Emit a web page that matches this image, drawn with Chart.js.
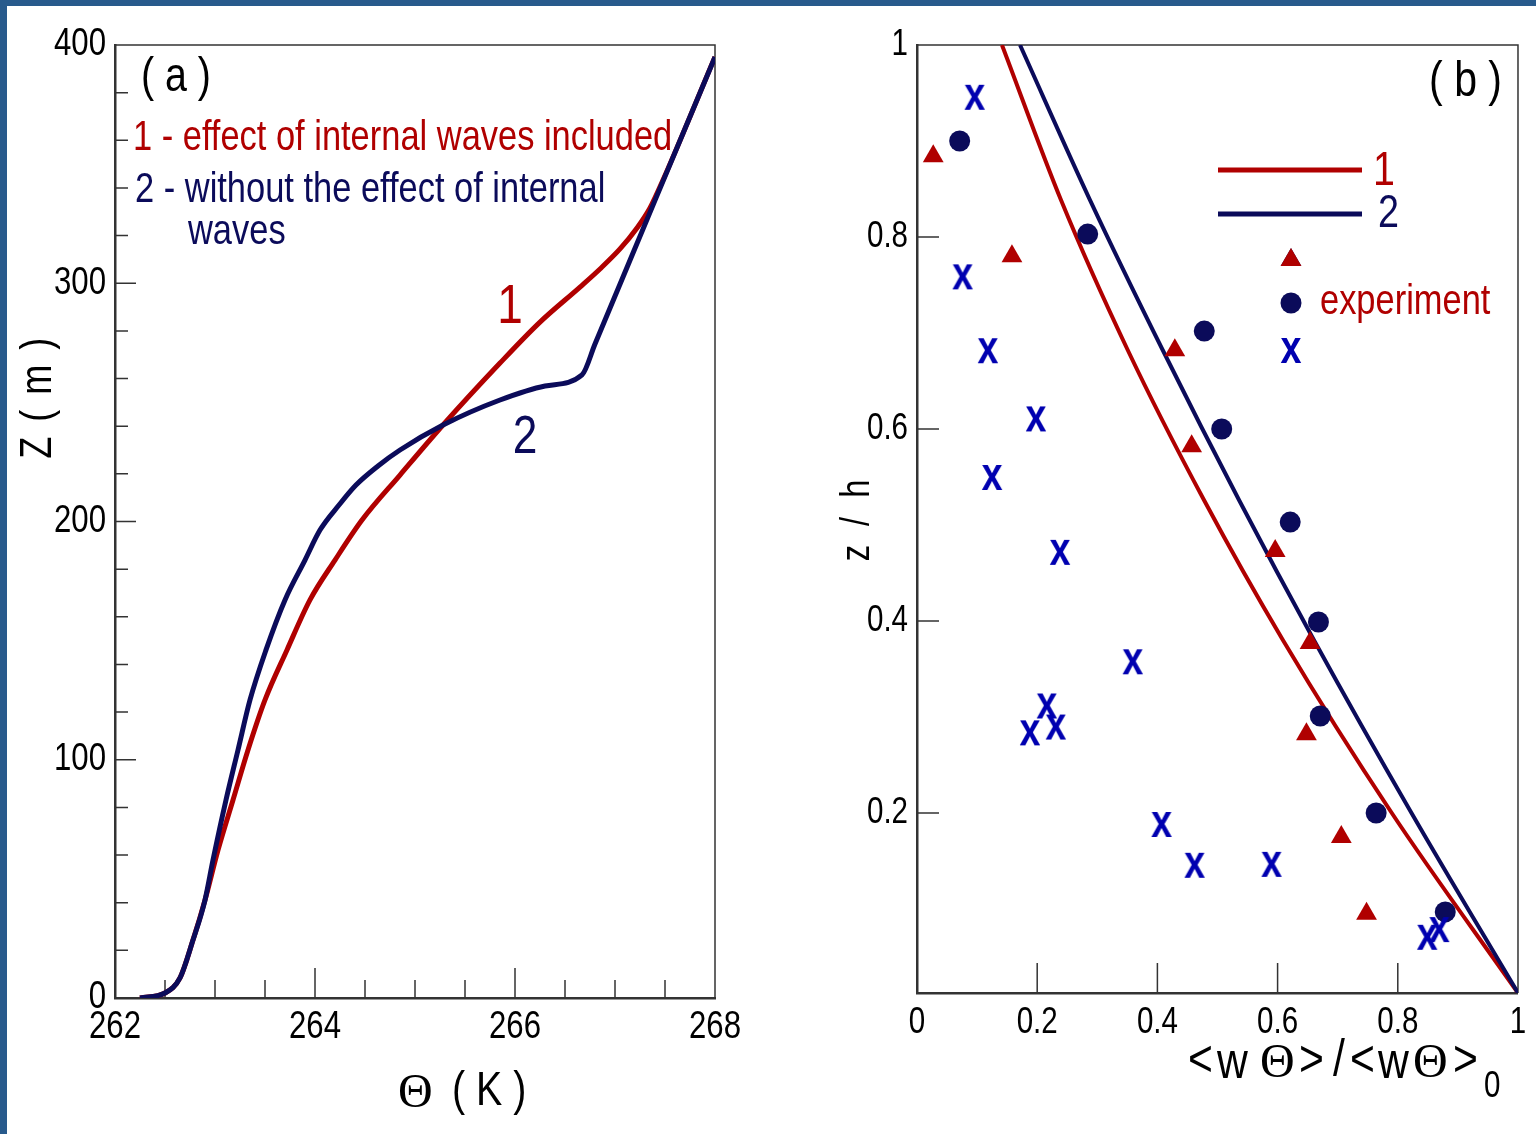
<!DOCTYPE html>
<html>
<head>
<meta charset="utf-8">
<script src="https://cdn.jsdelivr.net/npm/chart.js@4.4.1/dist/chart.umd.min.js"></script>
<style>
  html, body { margin: 0; padding: 0; background: #fff; }
  body { width: 1536px; height: 1134px; position: relative; overflow: hidden; }
  canvas { position: absolute; left: 0; top: 0; }
  .frame { position: absolute; background: #285a8c; }
</style>
</head>
<body>
<div class="frame" style="left:0;top:0;width:1536px;height:6px"></div>
<div class="frame" style="left:0;top:0;width:7px;height:1134px"></div>
<canvas id="chartA" width="1536" height="1134"></canvas>
<canvas id="chartB" width="1536" height="1134"></canvas>
<script>
// ---- panel (a): potential temperature profiles ----
var thetaCurve1 = [262.25, 262.5, 262.65, 262.78, 262.9, 263.03, 263.18, 263.33, 263.5, 263.72, 263.95, 264.2, 264.47, 264.85, 265.28, 265.85, 266.25, 266.65, 266.85, 267.05, 267.22, 267.35, 267.48, 268];
var zCurve1     = [0, 2.1, 8.4, 24.3, 41.1, 62.1, 83.1, 104.1, 125.1, 146.1, 167.1, 183.8, 200.6, 219.5, 240.5, 266.5, 283.7, 298.4, 306, 314.4, 323.2, 331.6, 343.3, 395];
var thetaCurve2 = [262.25, 262.5, 262.65, 262.78, 262.9, 262.98, 263.11, 263.23, 263.35, 263.51, 263.7, 263.9, 264.05, 264.24, 264.41, 264.63, 264.85, 265.28, 265.85, 266.3, 266.67, 266.8, 267.4, 268];
var zCurve2     = [0, 2.1, 8.4, 24.3, 41.1, 57.9, 83.1, 104.1, 125.1, 146.1, 167.1, 183.8, 196.4, 206.9, 215.3, 223.3, 230, 240.5, 251, 256.9, 261.5, 274.5, 334.8, 395];

var thetaTicks  = [262, 262.5, 263, 263.5, 264, 264.5, 265, 265.5, 266, 266.5, 267, 267.5, 268];
var thetaLabels = [262, 264, 266, 268];
var zTicks      = [0, 20, 40, 60, 80, 100, 120, 140, 160, 180, 200, 220, 240, 260, 280, 300, 320, 340, 360, 380, 400];
var zLabels     = [0, 100, 200, 300, 400];

// ---- panel (b): normalised heat flux ----
var fluxCurve1   = [0.1414, 0.2396, 0.3506, 0.4775, 0.609, 0.790, 1.0];
var heightCurve1 = [1.0, 0.8385, 0.6823, 0.526, 0.38, 0.2, 0.0125];
var fluxCurve2   = [0.1714, 0.2879, 0.4088, 0.5358, 0.6606, 0.8228, 1.0];
var heightCurve2 = [1.0, 0.8385, 0.6823, 0.526, 0.38, 0.2, 0.0125];

var triFlux     = [0.027, 0.158, 0.429, 0.457, 0.596, 0.654, 0.648, 0.706, 0.748];
var triHeight   = [0.884, 0.780, 0.682, 0.582, 0.473, 0.377, 0.282, 0.175, 0.095];
var dotFlux     = [0.071, 0.284, 0.478, 0.507, 0.621, 0.668, 0.671, 0.764, 0.879];
var dotHeight   = [0.9, 0.803, 0.702, 0.6, 0.503, 0.399, 0.301, 0.2, 0.097];
var crossFlux   = [0.096, 0.076, 0.118, 0.198, 0.125, 0.238, 0.359, 0.216, 0.188, 0.231, 0.407, 0.462, 0.590, 0.849, 0.869];
var crossHeight = [0.945, 0.758, 0.681, 0.610, 0.549, 0.471, 0.357, 0.311, 0.283, 0.289, 0.1875, 0.145, 0.146, 0.070, 0.078];

var fluxTicks   = [0, 0.2, 0.4, 0.6, 0.8, 1];
var heightTicks = [0.2, 0.4, 0.6, 0.8, 1];

var RED = '#b00000';
var NAVY = '#0b0b5a';
var BLUE = '#0000b0';
var SANS = '"Liberation Sans", Arial, sans-serif';
var SERIF = '"Liberation Serif", "DejaVu Serif", serif';

function pairs(xs, ys) {
  return xs.map(function (x, i) { return {x: x, y: ys[i]}; });
}

// no Arial Narrow here: squeeze Liberation Sans text to the same 82% width
function narrowText(canvas) {
  var ctx = canvas.getContext('2d');
  var fill = ctx.fillText;
  ctx.fillText = function (s, x, y, w) {
    if (this.font.indexOf('Liberation Sans') < 0) return fill.apply(this, arguments);
    this.save();
    this.translate(x, y);
    this.scale(0.82, 1);
    if (w === undefined) fill.call(this, s, 0, 0);
    else fill.call(this, s, 0, 0, w / 0.82);
    this.restore();
  };
}

function label(ctx, s, x, y, size, color, align, font) {
  ctx.font = size + 'px ' + (font || SANS);
  ctx.fillStyle = color;
  ctx.textAlign = align || 'left';
  ctx.textBaseline = 'middle';
  ctx.fillText(s, x, y);
}

// bold "x" glyph used as the point style of the third experiment
function crossGlyph() {
  var c = document.createElement('canvas');
  c.width = 30; c.height = 32;
  var g = c.getContext('2d');
  g.fillStyle = BLUE;
  g.font = 'bold 46px ' + SANS;
  g.textAlign = 'center';
  g.textBaseline = 'alphabetic';
  g.translate(15, 28);
  g.scale(0.82, 1);
  g.fillText('x', 0, 0);
  return c;
}

// inward tick marks plus the top / right frame
function tickMarks(xLen, yLen) {
  return {
    id: 'tickMarks',
    beforeDatasetsDraw: function (chart) {
      var ctx = chart.ctx, a = chart.chartArea, sx = chart.scales.x, sy = chart.scales.y;
      ctx.save();
      ctx.strokeStyle = '#333';
      ctx.lineWidth = 1.5;
      ctx.beginPath();
      ctx.moveTo(a.left, a.top);
      ctx.lineTo(a.right, a.top);
      ctx.lineTo(a.right, a.bottom);
      sx.ticks.forEach(function (t) {
        var p = sx.getPixelForValue(t.value);
        ctx.moveTo(p, a.bottom);
        ctx.lineTo(p, a.bottom - (t.major ? xLen[0] : xLen[1]));
      });
      sy.ticks.forEach(function (t) {
        var p = sy.getPixelForValue(t.value);
        ctx.moveTo(a.left, p);
        ctx.lineTo(a.left + (t.major ? yLen[0] : yLen[1]), p);
      });
      ctx.stroke();
      ctx.restore();
    }
  };
}

function axis(min, max, size, ticks, labels, padding, fit) {
  return {
    type: 'linear', min: min, max: max,
    afterFit: fit,
    afterBuildTicks: function (s) {
      s.ticks = ticks.map(function (v) { return {value: v, major: labels.indexOf(v) >= 0}; });
    },
    grid: {display: false, drawTicks: false},
    border: {display: true, color: '#333', width: 2.5},
    ticks: {
      autoSkip: false, maxRotation: 0, padding: padding, color: '#000',
      font: {family: SANS, size: size},
      callback: function (v) { return labels.indexOf(v) >= 0 ? String(v) : ''; }
    }
  };
}

var notesA = {
  id: 'notesA',
  afterDraw: function (chart) {
    var ctx = chart.ctx, sx = chart.scales.x, sy = chart.scales.y;
    ctx.save();
    label(ctx, '( a )', 141, 78, 48, '#000');
    label(ctx, '1 - effect of internal waves included', 133, 138, 42, RED);
    label(ctx, '2 - without the effect of internal', 135, 190, 42, NAVY);
    label(ctx, 'waves', 188, 232, 42, NAVY);
    label(ctx, '1', sx.getPixelForValue(265.95), sy.getPixelForValue(290), 56, RED, 'center');
    label(ctx, '2', sx.getPixelForValue(266.1), sy.getPixelForValue(235), 54, NAVY, 'center');
    // axis titles
    label(ctx, '\u0398', 398, 1094, 48, '#000', 'left', SERIF);
    label(ctx, '( K )', 452, 1092, 48, '#000');
    ctx.translate(39, 397);
    ctx.rotate(-Math.PI / 2);
    ctx.letterSpacing = '3px';
    label(ctx, 'Z ( m )', 0, 0, 44, '#000', 'center');
    ctx.restore();
  }
};

var notesB = {
  id: 'notesB',
  afterDraw: function (chart) {
    var ctx = chart.ctx;
    ctx.save();
    label(ctx, '( b )', 1502, 82, 50, '#000', 'right');
    // legend
    ctx.lineWidth = 5;
    ctx.strokeStyle = RED;
    ctx.beginPath(); ctx.moveTo(1218, 170); ctx.lineTo(1362, 170); ctx.stroke();
    ctx.strokeStyle = NAVY;
    ctx.beginPath(); ctx.moveTo(1218, 214); ctx.lineTo(1362, 214); ctx.stroke();
    label(ctx, '1', 1373, 172, 48, RED);
    label(ctx, '2', 1378, 214, 46, NAVY);
    Chart.helpers.drawPoint(ctx, {pointStyle: 'triangle', radius: 12, borderWidth: 0}, 1291, 260);
    ctx.fillStyle = RED; ctx.fill();
    ctx.beginPath(); ctx.arc(1291, 303, 10.5, 0, Math.PI * 2); ctx.fillStyle = NAVY; ctx.fill();
    ctx.drawImage(crossGlyph(), 1276, 335);
    label(ctx, 'experiment', 1320, 302, 42, RED);
    // axis titles
    label(ctx, '<', 1188, 1062, 52, '#000');
    label(ctx, 'w', 1217, 1064, 52, '#000');
    label(ctx, '\u0398', 1260, 1064, 48, '#000', 'left', SERIF);
    label(ctx, '>', 1299, 1062, 52, '#000');
    label(ctx, '/', 1333, 1062, 52, '#000');
    label(ctx, '<', 1350, 1062, 52, '#000');
    label(ctx, 'w', 1378, 1064, 52, '#000');
    label(ctx, '\u0398', 1413, 1064, 48, '#000', 'left', SERIF);
    label(ctx, '>', 1453, 1062, 52, '#000');
    label(ctx, '0', 1484, 1087, 36, '#000');
    ctx.translate(858, 518);
    ctx.rotate(-Math.PI / 2);
    ctx.letterSpacing = '6px';
    label(ctx, 'z / h', 0, 0, 40, '#000', 'center');
    ctx.restore();
  }
};

narrowText(document.getElementById('chartA'));
narrowText(document.getElementById('chartB'));

new Chart(document.getElementById('chartA'), {
  type: 'scatter',
  data: {
    datasets: [
      {data: pairs(thetaCurve2, zCurve2), showLine: true, borderColor: NAVY, borderWidth: 5, pointRadius: 0, cubicInterpolationMode: 'monotone'},
      {data: pairs(thetaCurve1, zCurve1), showLine: true, borderColor: RED, borderWidth: 5, pointRadius: 0, cubicInterpolationMode: 'monotone'}
    ]
  },
  options: {
    responsive: false, animation: false,
    layout: {padding: {left: 0, top: 45, right: 1536 - 715, bottom: 0}},
    plugins: {legend: {display: false}, tooltip: {enabled: false}},
    scales: {
      x: axis(262, 268, 38, thetaTicks, thetaLabels, 7, function (s) { s.height = 1134 - 998; }),
      y: axis(0, 400, 38, zTicks, zLabels, 9, function (s) { s.width = 115; })
    }
  },
  plugins: [tickMarks([30, 18], [21, 13]), notesA]
});

new Chart(document.getElementById('chartB'), {
  type: 'scatter',
  data: {
    datasets: [
      {data: pairs(crossFlux, crossHeight), pointStyle: crossGlyph(), pointRadius: 12},
      {data: pairs(dotFlux, dotHeight), pointStyle: 'circle', pointRadius: 10.5, backgroundColor: NAVY, borderWidth: 0},
      {data: pairs(triFlux, triHeight), pointStyle: 'triangle', pointRadius: 12, backgroundColor: RED, borderWidth: 0},
      {data: pairs(fluxCurve2, heightCurve2), showLine: true, borderColor: NAVY, borderWidth: 4, pointRadius: 0, cubicInterpolationMode: 'monotone'},
      {data: pairs(fluxCurve1, heightCurve1), showLine: true, borderColor: RED, borderWidth: 4, pointRadius: 0, cubicInterpolationMode: 'monotone'}
    ]
  },
  options: {
    responsive: false, animation: false,
    layout: {padding: {left: 780, top: 45, right: 1536 - 1518, bottom: 0}},
    plugins: {legend: {display: false}, tooltip: {enabled: false}},
    scales: {
      x: axis(0, 1, 36, fluxTicks, fluxTicks, 8, function (s) { s.height = 1134 - 993; }),
      y: axis(0.0125, 1, 36, heightTicks, heightTicks, 9, function (s) { s.width = 917 - 780; })
    }
  },
  plugins: [tickMarks([30, 30], [22, 22]), notesB]
});
</script>
</body>
</html>
